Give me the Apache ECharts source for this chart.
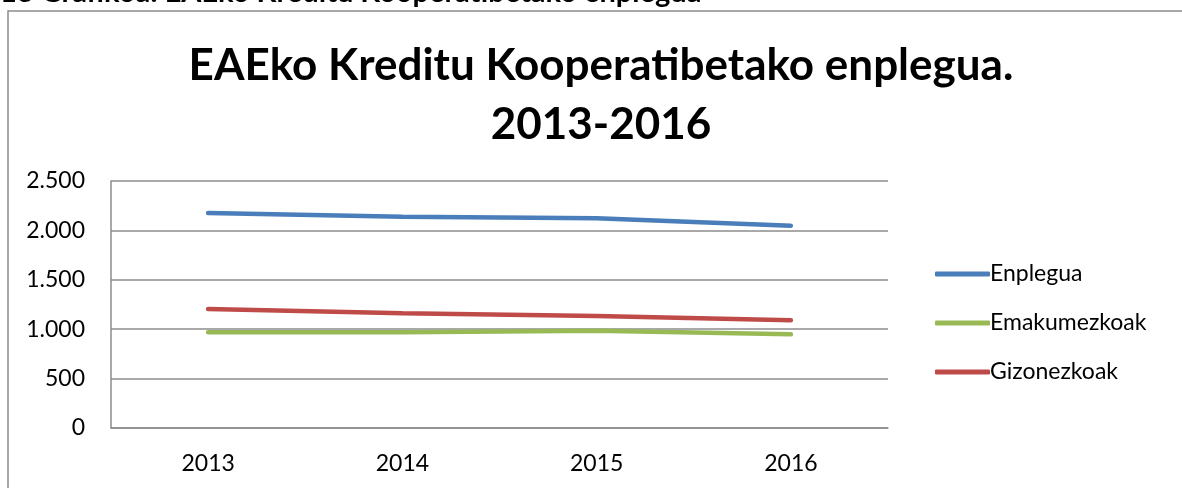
<!DOCTYPE html>
<html>
<head>
<meta charset="utf-8">
<script src="https://cdn.jsdelivr.net/npm/echarts@6/dist/echarts.min.js"></script>
<style>
  html, body { margin: 0; padding: 0; background: #fff; }
  #chart { width: 1182px; height: 488px; }
</style>
</head>
<body>
<div id="chart"></div>
<script>
  // datuak
  var years = ['2013', '2014', '2015', '2016']
  var enplegua = [2176, 2138, 2122, 2048]
  var emakumezkoak = [969, 969, 985, 948]
  var gizonezkoak = [1204, 1161, 1134, 1090]
  var yTicks = [0, 500, 1000, 1500, 2000, 2500]

  var chart = echarts.init(document.getElementById('chart'))

  function fmt(v) {
    // mila bereizlea puntuarekin
    return String(v).replace(/\B(?=(\d{3})+(?!\d))/g, '.')
  }

  var font = 'Lato, "Open Sans", sans-serif'

  chart.setOption({
    animation: false,
    color: ['#4a7ebb', '#98b954', '#be4b48'],
    title: {
      text: 'EAEko Kreditu Kooperatibetako enplegua.\n2013-2016',
      left: 596,
      top: 31,
      textAlign: 'center',
      textStyle: {
        fontFamily: font,
        fontWeight: 'bold',
        fontSize: 44,
        lineHeight: 59,
        color: '#000'
      }
    },
    graphic: [
      {
        type: 'rect',
        shape: { x: 8, y: 11, width: 1200, height: 500 },
        style: { fill: 'none', stroke: '#8c8c8c', lineWidth: 1.5 },
        silent: true
      },
      {
        type: 'text',
        left: 0,
        top: -22,
        style: {
          text: '13 Grafikoa: EAEko Kreditu Kooperatibetako enplegua',
          font: 'bold 29px ' + font,
          fill: '#000'
        }
      }
    ],
    legend: {
      orient: 'vertical',
      left: 930,
      top: 257,
      icon: 'roundRect',
      itemWidth: 55,
      itemHeight: 5,
      itemGap: 25,
      textStyle: { fontFamily: font, fontSize: 23, lineHeight: 24, color: '#000', padding: [0, 0, 0, -5] },
      data: ['Enplegua', 'Emakumezkoak', 'Gizonezkoak']
    },
    grid: {
      left: 111,
      right: 294,
      top: 181,
      bottom: 60
    },
    xAxis: {
      type: 'category',
      data: years,
      boundaryGap: true,
      axisLine: { lineStyle: { color: '#8c8c8c', width: 1.5 } },
      axisTick: { show: false },
      axisLabel: { fontFamily: font, fontSize: 23, color: '#000', margin: 24 }
    },
    yAxis: {
      type: 'value',
      min: yTicks[0],
      max: yTicks[yTicks.length - 1],
      interval: 500,
      axisLine: { show: true, lineStyle: { color: '#8c8c8c', width: 1.5 } },
      axisTick: { show: false },
      splitLine: { lineStyle: { color: '#8c8c8c', width: 1.5 } },
      axisLabel: { fontFamily: font, fontSize: 23, color: '#000', margin: 26, formatter: fmt }
    },
    series: [
      {
        name: 'Enplegua',
        type: 'line',
        data: enplegua,
        symbol: 'none',
        lineStyle: { width: 4.5, cap: 'round' }
      },
      {
        name: 'Emakumezkoak',
        type: 'line',
        data: emakumezkoak,
        symbol: 'none',
        lineStyle: { width: 4.5, cap: 'round' }
      },
      {
        name: 'Gizonezkoak',
        type: 'line',
        data: gizonezkoak,
        symbol: 'none',
        lineStyle: { width: 4.5, cap: 'round' }
      }
    ]
  })
</script>
</body>
</html>
